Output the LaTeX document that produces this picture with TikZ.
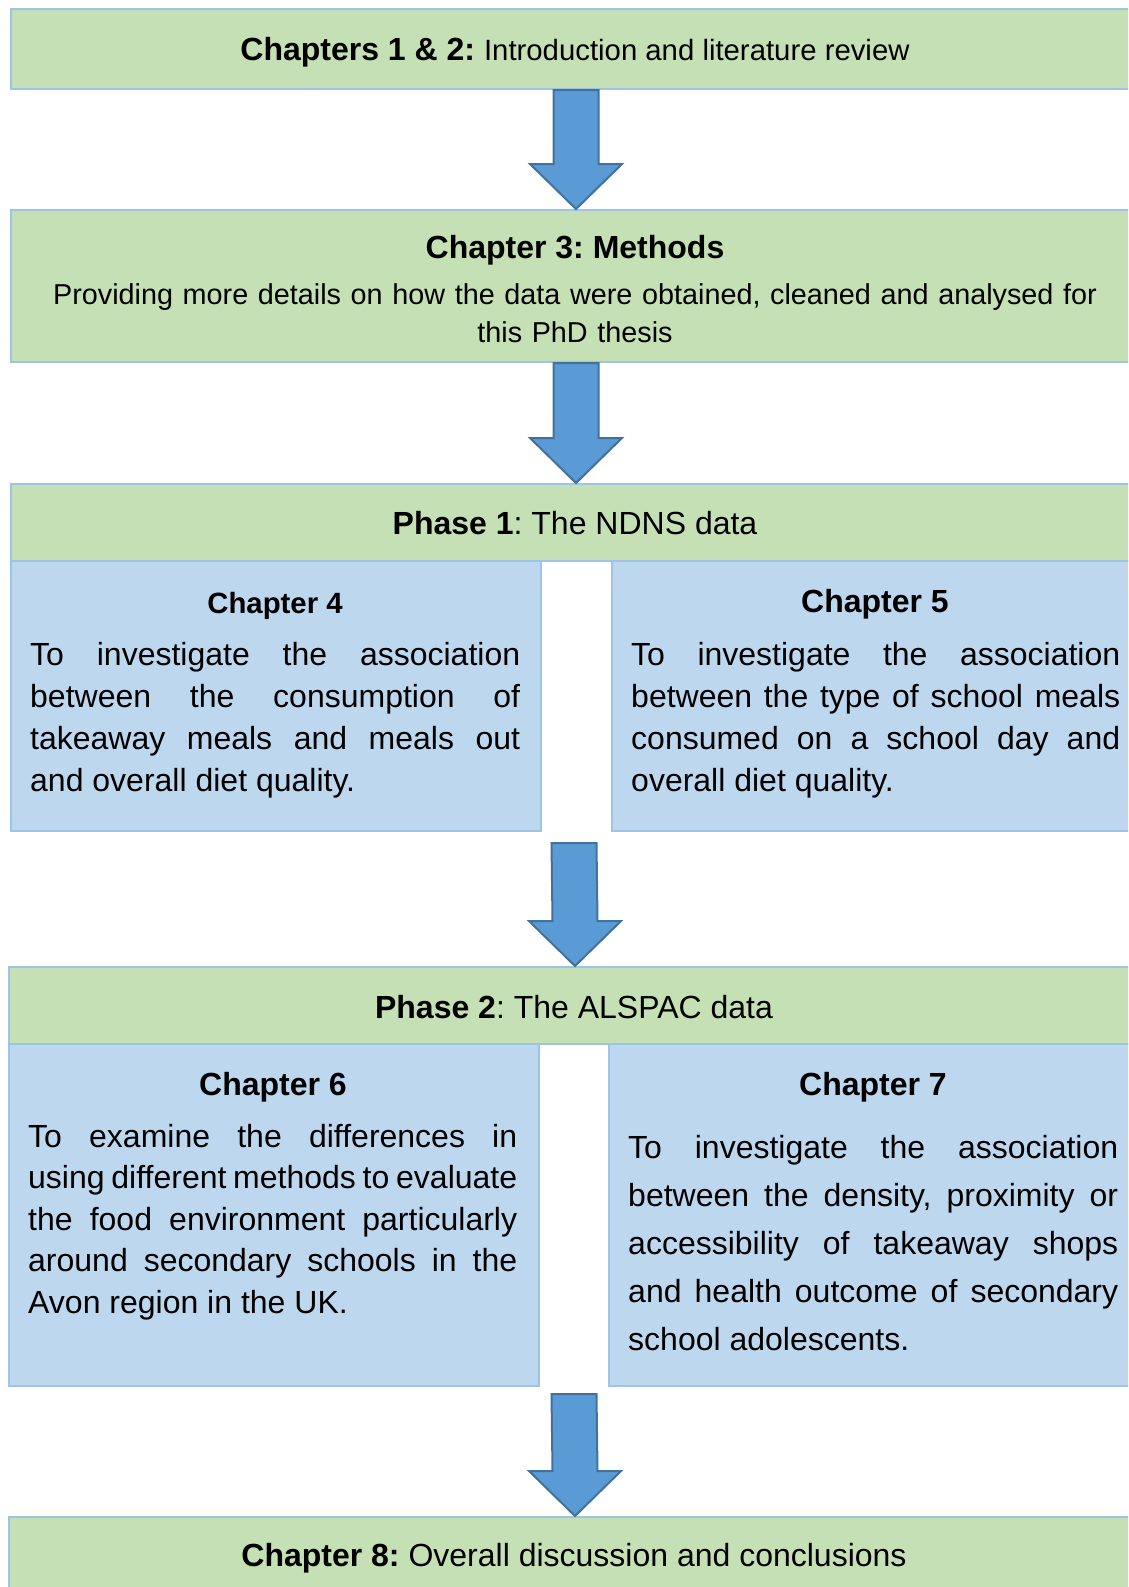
\documentclass[tikz,border=0pt]{standalone}
\usepackage{fontspec}
\setmainfont{Liberation Sans}
\usetikzlibrary{calc}

\definecolor{phasegreen}{HTML}{C5E0B4}
\definecolor{chapterblue}{HTML}{BDD7EE}
\definecolor{boxedge}{HTML}{9DC3E6}
\definecolor{arrowfill}{HTML}{5B9BD5}
\definecolor{arrowedge}{HTML}{41719C}

\hyphenpenalty=10000
\exhyphenpenalty=10000
\tolerance=10000
\frenchspacing

\newcommand{\elevenpt}{\fontsize{29.33}{38}\selectfont}

% block arrow pointing down, from #1 (top of shaft) to #2 (tip)
\newcommand{\downblock}[2]{%
	\draw [blockarrow] ($(#1)+(-22.5,0)$) -- ($(#1)+(22.5,0)$) -- ($(#2)+(22.5,-45)$) -- ($(#2)+(46,-45)$)
		-- (#2) -- ($(#2)+(-46,-45)$) -- ($(#2)+(-22.5,-45)$) -- cycle;}

\begin{document}
\begin{tikzpicture}[x=1pt,y=-1pt,
	greenbox/.style={draw=boxedge, fill=phasegreen, line width=2pt, inner sep=0pt, anchor=north west},
	bluebox/.style={draw=boxedge, fill=chapterblue, line width=1.5pt, inner sep=0pt, anchor=north west},
	blockarrow/.style={draw=arrowedge, fill=arrowfill, line width=2pt, line join=miter},
	title/.style={font=\fontsize{32}{38}\selectfont, inner sep=0pt, anchor=base},
	body/.style={font=\fontsize{32}{42}\selectfont, inner sep=0pt, anchor=base west, text width=490pt, align=justify}]

		\useasboundingbox (0,0) rectangle (1128,1587);
		\clip (0,0) rectangle (1128,1587);

		% Boxes
		\node [greenbox, minimum width=1130pt, minimum height=80pt] (intro) at (10,8) {};
		\node [greenbox, minimum width=1130pt, minimum height=152pt] (methods) at (10,209) {};
		\node [greenbox, minimum width=1130pt, minimum height=77pt] (phase1) at (10,483) {};
		\node [bluebox, minimum width=530pt, minimum height=270pt] (ch4) at (10,560) {};
		\node [bluebox, minimum width=529pt, minimum height=270pt] (ch5) at (611,560) {};
		\node [greenbox, minimum width=1132pt, minimum height=77pt] (phase2) at (8,966) {};
		\node [bluebox, minimum width=530pt, minimum height=342pt] (ch6) at (8,1043) {};
		\node [bluebox, minimum width=532pt, minimum height=342pt] (ch7) at (608,1043) {};
		\node [greenbox, minimum width=1132pt, minimum height=90pt] (final) at (8,1516) {};

		% Texts
		\node [title] (introtxt) at (575,61) {\textbf{Chapters 1 \& 2:} {\elevenpt Introduction and literature review}};

		\node [title] (methodstitle) at (575,258) {\textbf{Chapter 3: Methods}};
		\node [font=\fontsize{28.8}{38}\selectfont, inner sep=0pt, anchor=base, text width=1080pt, align=center] (methodstxt) at (575,304)
			{Providing more details on how the data were obtained, cleaned and analysed for\\ this PhD thesis};

		\node [title] (phase1txt) at (575,534) {\textbf{Phase 1}: The NDNS data};

		\node [title, font=\elevenpt] (ch4title) at (275,613) {\textbf{Chapter 4}};
		\node [body] (ch4txt) at (30,665) {To investigate the association\linebreak between the consumption of\linebreak
			takeaway meals and meals out\linebreak and overall diet quality.};

		\node [title] (ch5title) at (875,612) {\textbf{Chapter 5}};
		\node [body, text width=489pt] (ch5txt) at (631,665) {To investigate the association\linebreak between the type of school meals\linebreak
			consumed on a school day and\linebreak overall diet quality.};

		\node [title] (phase2txt) at (574,1018) {\textbf{Phase 2}: The ALSPAC data};

		\node [title] (ch6title) at (273,1095) {\textbf{Chapter 6}};
		\node [body, text width=489pt, font=\fontsize{32}{41.6}\selectfont] (ch6txt) at (28,1147) {To examine the differences in\linebreak
			using different methods to evaluate\linebreak the food environment particularly\linebreak
			around secondary schools in the\linebreak Avon region in the UK.};

		\node [title] (ch7title) at (873,1095) {\textbf{Chapter 7}};
		\node [body, font=\fontsize{32}{48}\selectfont] (ch7txt) at (628,1158) {To investigate the association\linebreak
			between the density, proximity or\linebreak accessibility of takeaway shops\linebreak
			and health outcome of secondary\linebreak school adolescents.};

		\node [title] (finaltxt) at (574,1566) {\textbf{Chapter 8:} Overall discussion and conclusions};

		% Arrows
		\coordinate (gapA) at (574,843);
		\coordinate (gapB) at (574,1394);

		\downblock{intro.south}{methods.north}
		\downblock{methods.south}{phase1.north}
		\downblock{gapA}{phase2.north}
		\downblock{gapB}{final.north}

	\end{tikzpicture}
\end{document}
